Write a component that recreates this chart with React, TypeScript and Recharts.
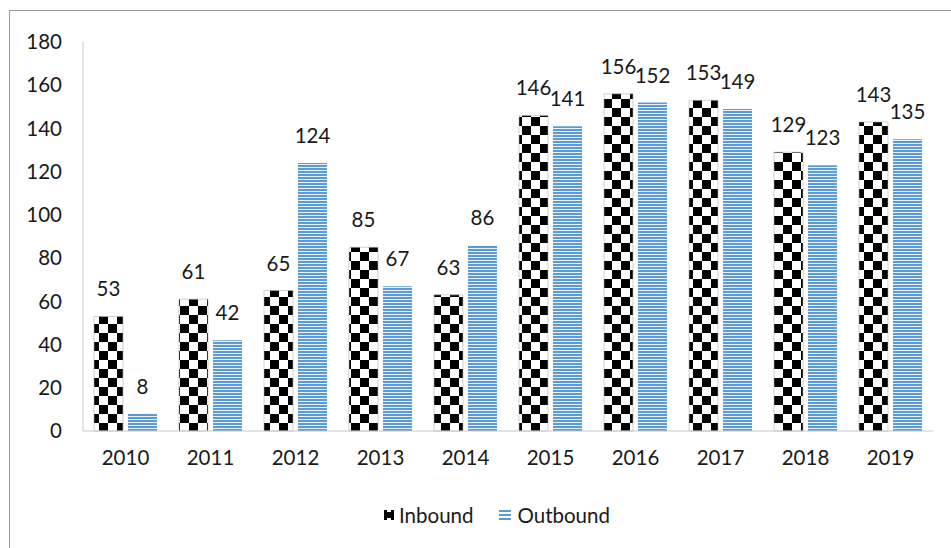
import { BarChart, Bar, XAxis, YAxis, Legend, LabelList } from "recharts";

const YEARS = ["2010", "2011", "2012", "2013", "2014", "2015", "2016", "2017", "2018", "2019"];
const INBOUND = [53, 61, 65, 85, 63, 146, 156, 153, 129, 143];
const OUTBOUND = [8, 42, 124, 67, 86, 141, 152, 149, 123, 135];
const Y_TICKS = [0, 20, 40, 60, 80, 100, 120, 140, 160, 180];

const FONT = "Lato, 'Open Sans', sans-serif";
const FS = 20.5;

const data = YEARS.map((year, i) => ({
  year,
  inbound: INBOUND[i],
  outbound: OUTBOUND[i],
}));

// legend with small swatches like the Excel original
function LegendContent() {
  return (
    <div
      style={{
        display: "flex",
        justifyContent: "center",
        alignItems: "center",
        fontFamily: FONT,
        fontSize: FS,
        color: "#1a1a1a",
        paddingLeft: 60,
      }}
    >
      <svg width={12} height={12} style={{ marginRight: 4 }}>
        <rect x={0} y={0} width={12} height={12} fill="#fff" />
        <rect x={1} y={1} width={10} height={10} fill="#000" />
        <rect x={4} y={1} width={4} height={2} fill="#fff" />
        <rect x={4} y={9} width={4} height={2} fill="#fff" />
      </svg>
      <span style={{ marginRight: 26 }}>Inbound</span>
      <svg width={12} height={12} style={{ marginRight: 6 }}>
        <rect x={0} y={1} width={12} height={2} fill="#5b9bd5" />
        <rect x={0} y={5} width={12} height={2} fill="#5b9bd5" />
        <rect x={0} y={9} width={12} height={2} fill="#5b9bd5" />
      </svg>
      <span>Outbound</span>
    </div>
  );
}

export default function App() {
  return (
    <div
      style={{
        position: "absolute",
        left: 0,
        top: 0,
        width: 951,
        height: 548,
        background: "#fff",
      }}
    >
      {/* frame of the original screenshot */}
      <div
        style={{
          position: "absolute",
          left: 9,
          top: 10,
          right: 0,
          bottom: 0,
          borderLeft: "1px solid #9a9a9a",
          borderTop: "1px solid #9a9a9a",
        }}
      />

      <div style={{ position: "absolute", left: 0, top: 0 }}>
        <BarChart
          width={951}
          height={548}
          data={data}
          margin={{ top: 42, right: 18, left: 0, bottom: 63 }}
          barSize={29}
          barGap={5}
        >
          <defs>
            <pattern id="checker" width={18} height={18} patternUnits="userSpaceOnUse">
              <rect x={0} y={0} width={18} height={18} fill="#fff" />
              <rect x={0} y={0} width={9} height={9} fill="#000" />
              <rect x={9} y={9} width={9} height={9} fill="#000" />
            </pattern>
            <pattern id="stripes" width={6} height={3} patternUnits="userSpaceOnUse">
              <rect x={0} y={0} width={6} height={3} fill="#eaf1fa" />
              <rect x={0} y={0} width={6} height={2} fill="#5b9bd5" />
            </pattern>
          </defs>

          <XAxis
            dataKey="year"
            tickLine={false}
            axisLine={{ stroke: "#c8c8c8" }}
            tick={{ fill: "#1a1a1a", fontSize: FS, fontFamily: FONT }}
            tickMargin={13}
            height={30}
          />
          <YAxis
            domain={[0, 180]}
            ticks={Y_TICKS}
            tickLine={false}
            axisLine={{ stroke: "#c8c8c8" }}
            tick={{ fill: "#1a1a1a", fontSize: FS, fontFamily: FONT }}
            tickMargin={15}
            width={83}
            interval={0}
          />

          <Legend verticalAlign="bottom" wrapperStyle={{ bottom: 21 }} content={<LegendContent />} />

          <Bar dataKey="inbound" name="Inbound" fill="url(#checker)" stroke="#b0b0b0" strokeWidth={0.6} isAnimationActive={false}>
            <LabelList
              dataKey="inbound"
              position="top"
              offset={20}
              style={{ fill: "#1a1a1a", fontSize: FS, fontFamily: FONT }}
            />
          </Bar>
          <Bar dataKey="outbound" name="Outbound" fill="url(#stripes)" isAnimationActive={false}>
            <LabelList
              dataKey="outbound"
              position="top"
              offset={20}
              style={{ fill: "#1a1a1a", fontSize: FS, fontFamily: FONT }}
            />
          </Bar>
        </BarChart>
      </div>
    </div>
  );
}
